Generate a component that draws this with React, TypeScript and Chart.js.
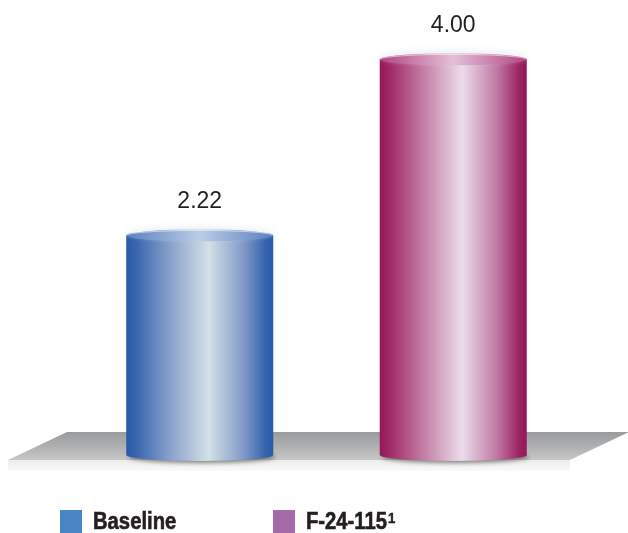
import React, { useEffect, useRef } from "react";
import { Chart, registerables } from "chart.js";
Chart.register(...registerables);

// ---- data ----
const categories = ["Baseline", "F-24-115"];
const values = [2.22, 4.0];
const legendLabels = ["Baseline", "F-24-115"];
const legendSups = ["", "1"];

// ---- style ----
const legendColors = ["#4a86c6", "#a56aa8"];
const bodyStops: [number, string][][] = [
  [[0, "#2a59a6"], [0.07, "#3a66b0"], [0.3, "#8aa1cb"], [0.56, "#d3e0e7"], [0.8, "#8199c8"], [0.95, "#3463ae"], [1, "#2a59a6"]],
  [[0, "#93175a"], [0.07, "#a02a66"], [0.3, "#c47ea6"], [0.56, "#ecdcea"], [0.8, "#bf77a2"], [0.95, "#9d2262"], [1, "#93175a"]],
];
const capStops: [number, string][][] = [
  [[0, "#5b7fbf"], [0.5, "#bccde5"], [1, "#5b7fbf"]],
  [[0, "#b04582"], [0.5, "#e4c0d8"], [1, "#b04582"]],
];
const BAR_PCT = 0.58;
const RY = 6;

function hGrad(ctx: CanvasRenderingContext2D, l: number, r: number, stops: [number, string][]) {
  const g = ctx.createLinearGradient(l, 0, r, 0);
  stops.forEach(([o, c]) => g.addColorStop(o, c));
  return g;
}

function barGeom(chart: any, i: number) {
  const xs = chart.scales.x;
  const cx = xs.getPixelForValue(i);
  const half = ((xs.width / categories.length) * BAR_PCT) / 2;
  return { cx, half };
}

const cylinderPlugin = {
  id: "cylinder",
  beforeDatasetsDraw(chart: any) {
    const ctx: CanvasRenderingContext2D = chart.ctx;
    const base = chart.scales.y.getPixelForValue(0);
    // floor slab
    const topY = base - 23;
    const botY = base + 5;
    const frontY = base + 16;
    const lb = 8, rb = 570, dx = 59;
    ctx.save();
    const fg = ctx.createLinearGradient(0, topY, 0, botY);
    fg.addColorStop(0, "#9a9b9d");
    fg.addColorStop(0.5, "#aeafb0");
    fg.addColorStop(1, "#c8c8c8");
    ctx.fillStyle = fg;
    ctx.beginPath();
    ctx.moveTo(lb + dx, topY);
    ctx.lineTo(rb + dx, topY);
    ctx.lineTo(rb, botY);
    ctx.lineTo(lb, botY);
    ctx.closePath();
    ctx.fill();
    const ff = ctx.createLinearGradient(0, botY, 0, frontY);
    ff.addColorStop(0, "#ececec");
    ff.addColorStop(1, "#fafafa");
    ctx.fillStyle = ff;
    ctx.fillRect(lb, botY, rb - lb, frontY - botY);
    ctx.restore();

    // cylinder bottoms with shadow
    values.forEach((_, i) => {
      const { cx, half } = barGeom(chart, i);
      ctx.save();
      ctx.filter = "blur(2px)";
      ctx.fillStyle = "rgba(40,40,40,0.55)";
      ctx.beginPath();
      ctx.ellipse(cx + 2, base + 2, half, RY, 0, 0, Math.PI * 2);
      ctx.fill();
      ctx.restore();
      ctx.save();
      ctx.fillStyle = hGrad(ctx, cx - half, cx + half, bodyStops[i]);
      ctx.beginPath();
      ctx.ellipse(cx, base, half, RY, 0, 0, Math.PI);
      ctx.fill();
      ctx.restore();
    });
  },
  afterDatasetsDraw(chart: any) {
    const ctx: CanvasRenderingContext2D = chart.ctx;
    const ys = chart.scales.y;
    values.forEach((v, i) => {
      const { cx, half } = barGeom(chart, i);
      const top = ys.getPixelForValue(v);
      ctx.save();
      // faint haze above cap
      ctx.filter = "blur(3px)";
      ctx.fillStyle = "rgba(225,230,240,0.6)";
      ctx.beginPath();
      ctx.ellipse(cx, top - 3, half, RY, 0, 0, Math.PI * 2);
      ctx.fill();
      ctx.restore();
      ctx.save();
      ctx.fillStyle = hGrad(ctx, cx - half, cx + half, capStops[i]);
      ctx.beginPath();
      ctx.ellipse(cx, top, half, RY, 0, 0, Math.PI * 2);
      ctx.fill();
      ctx.strokeStyle = "rgba(255,255,255,0.55)";
      ctx.lineWidth = 1;
      ctx.beginPath();
      ctx.ellipse(cx, top, half - 1, RY - 1, 0, Math.PI, Math.PI * 2);
      ctx.stroke();
      ctx.restore();
      // value label
      ctx.save();
      ctx.font = '23px "Liberation Sans", Arial, sans-serif';
      ctx.fillStyle = "#231f20";
      ctx.textAlign = "center";
      ctx.textBaseline = "alphabetic";
      ctx.fillText(v.toFixed(2), cx, top - 27);
      ctx.restore();
    });
  },
};

export default function App() {
  const ref = useRef<HTMLCanvasElement>(null);
  useEffect(() => {
    if (!ref.current) return;
    const chart = new Chart(ref.current, {
      type: "bar",
      data: {
        labels: categories,
        datasets: [
          {
            data: values,
            barPercentage: BAR_PCT,
            categoryPercentage: 1,
            borderWidth: 0,
            backgroundColor: (c: any) => {
              const ch = c.chart;
              if (!ch.chartArea || !ch.scales.x) return legendColors[c.dataIndex];
              const { cx, half } = barGeom(ch, c.dataIndex);
              return hGrad(ch.ctx, cx - half, cx + half, bodyStops[c.dataIndex]);
            },
          },
        ],
      },
      options: {
        responsive: false,
        animation: false,
        devicePixelRatio: 1,
        layout: { padding: { left: 73, right: 48, top: 0, bottom: 78 } },
        scales: {
          x: { display: false },
          y: { display: false, min: 0, max: 4.6 },
        },
        plugins: { legend: { display: false }, tooltip: { enabled: false } },
      },
      plugins: [cylinderPlugin],
    });
    return () => chart.destroy();
  }, []);

  const legendFont: React.CSSProperties = {
    position: "absolute",
    top: 509,
    height: 24,
    lineHeight: "24px",
    fontFamily: '"Liberation Sans", Arial, sans-serif',
    fontWeight: 700,
    fontSize: 23,
    color: "#231f20",
    whiteSpace: "nowrap",
    transform: "scaleX(0.88)",
    transformOrigin: "left center",
    WebkitTextStroke: "0.6px #231f20",
  };
  const lefts = [60, 273];
  return (
    <div style={{ position: "absolute", left: 0, top: 0, width: 628, height: 533, background: "#fff", overflow: "hidden" }}>
      <canvas ref={ref} width={628} height={533} style={{ position: "absolute", left: 0, top: 0 }} />
      {legendLabels.map((lab, i) => (
        <React.Fragment key={lab}>
          <div style={{ position: "absolute", left: lefts[i], top: 510, width: 22, height: 23, background: legendColors[i] }} />
          <div style={{ ...legendFont, left: lefts[i] + 33 }}>
            {lab}
            {legendSups[i] ? (
              <sup style={{ fontSize: 15, fontWeight: 700, verticalAlign: "top", lineHeight: "15px", position: "relative", top: 1, marginLeft: 1, WebkitTextStroke: "0.5px #231f20" }}>{legendSups[i]}</sup>
            ) : null}
          </div>
        </React.Fragment>
      ))}
    </div>
  );
}
